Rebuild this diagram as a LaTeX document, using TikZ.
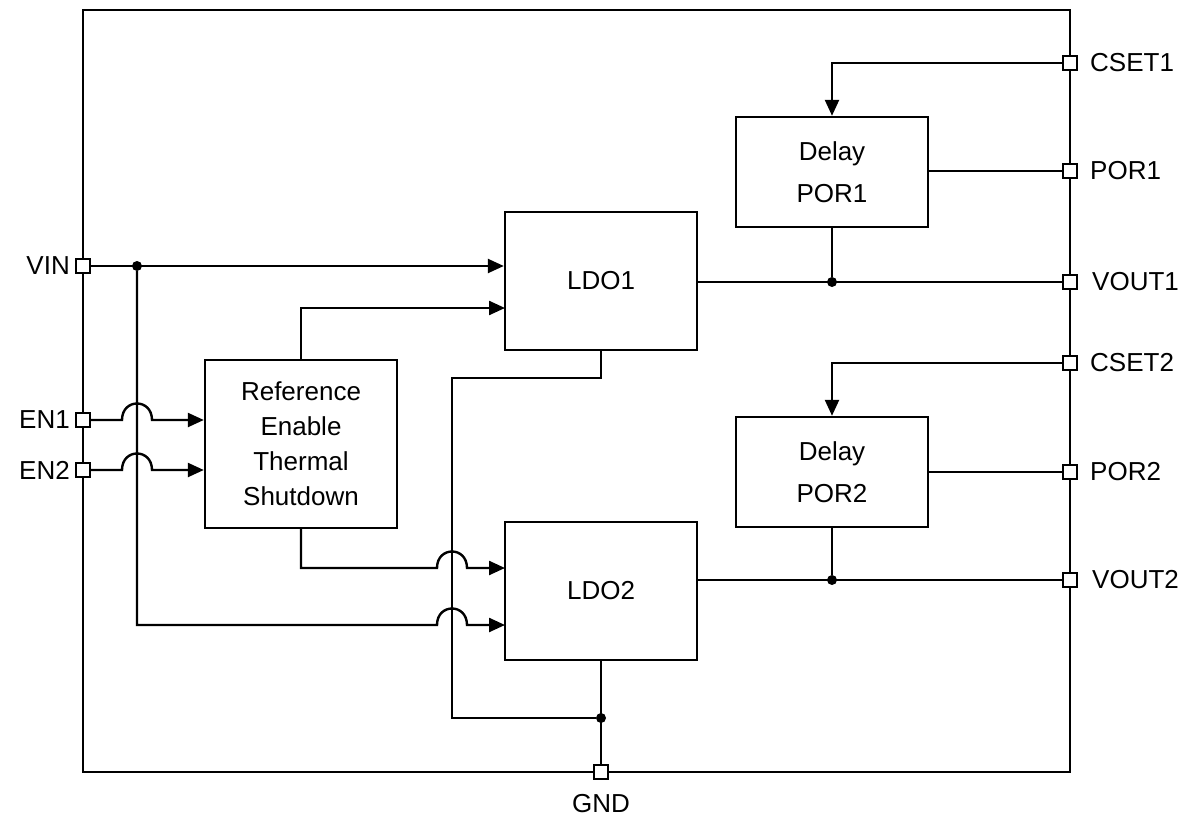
\documentclass[tikz,border=0pt]{standalone}
\usepackage{fontspec}
\setmainfont{Liberation Sans}
\usetikzlibrary{arrows.meta}
\begin{document}
\begin{tikzpicture}[x=1pt,y=-1pt,
  wire/.style={line width=2.4pt},
  arr/.style={wire,-{Triangle[length=16pt,width=14pt]}},
  blk/.style={draw,line width=2.4pt,fill=white,inner sep=0pt,align=center,font=\fontsize{26}{42}\selectfont},
  pin/.style={draw,line width=2pt,fill=white,minimum size=14pt,inner sep=0pt},
  dot/.style={circle,fill=black,inner sep=0pt,minimum size=10pt},
  lbl/.style={inner sep=0pt,font=\fontsize{26}{30}\selectfont}]
\useasboundingbox (0,0) rectangle (1186,821);
% outer frame
\draw[line width=2.4pt] (83,10) rectangle (1070,772);
% blocks
\node[blk,minimum width=192pt,minimum height=138pt] (ldo1) at (601,281) {LDO1};
\node[blk,minimum width=192pt,minimum height=138pt] (ldo2) at (601,591) {LDO2};
\node[blk,minimum width=192pt,minimum height=168pt,font=\fontsize{26}{35}\selectfont] (ref) at (301,444) {Reference\\Enable\\Thermal\\Shutdown};
\node[blk,minimum width=192pt,minimum height=110pt] (d1) at (832,172) {Delay\\POR1};
\node[blk,minimum width=192pt,minimum height=110pt] (d2) at (832,472) {Delay\\POR2};
% junctions and coordinates
\node[dot] (jv) at (137,266) {};
\node[dot] (j1) at (832,282) {};
\node[dot] (j2) at (832,580) {};
\node[dot] (jg) at (601,718) {};
\coordinate (vdown) at (137,625);
\coordinate (l1in2) at (505,308);
\coordinate (l2in1) at (505,568);
\coordinate (l2in2) at (505,625);
\coordinate (gnda) at (601,378);
\coordinate (gndb) at (452,378);
\coordinate (gndc) at (452,718);
% wires
\draw[arr] (83,266) -- (ldo1.west |- jv);
\draw[arr] (jv) -- (vdown) -- (437,625) .. controls (437,603) and (467,603) .. (467,625) -- (l2in2);
\draw[arr] (ref.north) |- (l1in2);
\draw[arr] (83,420) -- (122,420) .. controls (122,398) and (152,398) .. (152,420) -- (ref.west |- 0,420);
\draw[arr] (83,470) -- (122,470) .. controls (122,448) and (152,448) .. (152,470) -- (ref.west |- 0,470);
\draw[arr] (ref.south) -- (301,568) -- (437,568) .. controls (437,546) and (467,546) .. (467,568) -- (l2in1);
\draw[wire] (ldo1.south) -- (gnda) -- (gndb) -- (gndc) -- (jg);
\draw[wire] (ldo2.south) -- (601,772);
\draw[wire] (ldo1.east |- j1) -- (1070,282);
\draw[wire] (d1.south) -- (j1);
\draw[wire] (ldo2.east |- j2) -- (1070,580);
\draw[wire] (d2.south) -- (j2);
\draw[arr] (1070,63) -| (d1.north);
\draw[arr] (1070,363) -| (d2.north);
\draw[wire] (d1.east |- 0,171) -- (1070,171);
\draw[wire] (d2.east |- 0,472) -- (1070,472);
% pins
\node[pin] (vin) at (83,266) {};
\node[pin] (en1) at (83,420) {};
\node[pin] (en2) at (83,470) {};
\node[pin] (cset1) at (1070,63) {};
\node[pin] (por1) at (1070,171) {};
\node[pin] (vout1) at (1070,282) {};
\node[pin] (cset2) at (1070,363) {};
\node[pin] (por2) at (1070,472) {};
\node[pin] (vout2) at (1070,580) {};
\node[pin] (gnd) at (601,772) {};
% labels
\node[lbl,anchor=east] at (70,266) {VIN};
\node[lbl,anchor=east] at (70,420) {EN1};
\node[lbl,anchor=east] at (70,470) {EN2};
\node[lbl,anchor=west] at (1090,63) {CSET1};
\node[lbl,anchor=west] at (1090,171) {POR1};
\node[lbl,anchor=west] at (1092,282) {VOUT1};
\node[lbl,anchor=west] at (1090,363) {CSET2};
\node[lbl,anchor=west] at (1090,472) {POR2};
\node[lbl,anchor=west] at (1092,580) {VOUT2};
\node[lbl] at (601,804) {GND};
\end{tikzpicture}
\end{document}
